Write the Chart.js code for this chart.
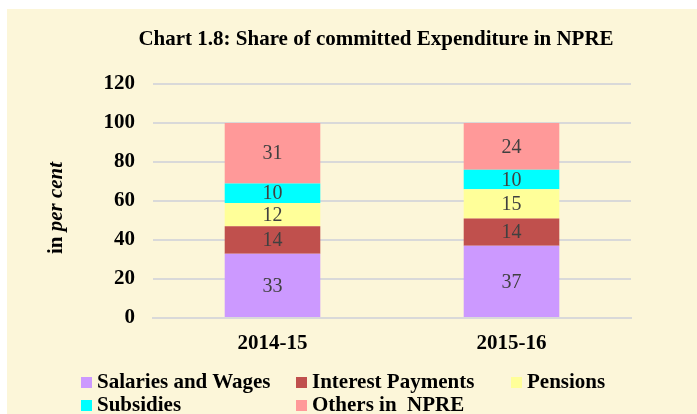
<!DOCTYPE html>
<html>
<head>
<meta charset="utf-8">
<script src="https://cdn.jsdelivr.net/npm/chart.js@4"></script>
<style>
  body { margin: 0; background: #fff; }
  #wrap { position: absolute; left: 7px; top: 9px; width: 690px; height: 405px; background: #FCF6D9; }
  #legend { position: absolute; left: 0; top: 0; width: 690px; height: 405px; pointer-events: none;
    font-family: 'Times New Roman', 'Liberation Serif', serif; font-weight: bold; font-size: 21px; color: #000; }
  .item { position: absolute; white-space: pre; line-height: 22px; }
  .box { display: inline-block; width: 11px; height: 11px; margin-right: 5px; vertical-align: 0px; }
</style>
</head>
<body>
<div id="wrap">
  <canvas id="myChart" width="690" height="405"></canvas>
  <div id="legend"></div>
</div>
<script>
const years = ['2014-15', '2015-16']
const salaries = [33, 37]
const interest = [14, 14]
const pensions = [12, 15]
const subsidies = [10, 10]
const others = [31, 24]
const seriesNames = ['Salaries and Wages', 'Interest Payments', 'Pensions', 'Subsidies', 'Others in  NPRE']
const seriesColors = ['#CC99FF', '#C0504D', '#FFFF99', '#00FFFF', '#FF9999']
const yTicks = [0, 20, 40, 60, 80, 100, 120]
const chartTitle = 'Chart 1.8: Share of committed Expenditure in NPRE'

const serif = "'Times New Roman', 'Liberation Serif', serif"
const allSeries = [salaries, interest, pensions, subsidies, others]

// value labels in the middle of every segment
const barLabels = {
  id: 'barLabels',
  afterDatasetsDraw(chart) {
    const ctx = chart.ctx
    ctx.save()
    ctx.font = '20px ' + serif
    ctx.fillStyle = '#404040'
    ctx.textAlign = 'center'
    ctx.textBaseline = 'middle'
    chart.data.datasets.forEach((ds, i) => {
      chart.getDatasetMeta(i).data.forEach((bar, j) => {
        ctx.fillText(String(ds.data[j]), bar.x, (bar.y + bar.base) / 2 + 1)
      })
    })
    ctx.restore()
  }
}

// title + y title ("in " bold, "per cent" bold italic)
const texts = {
  id: 'texts',
  afterDraw(chart) {
    const ctx = chart.ctx
    ctx.save()
    ctx.fillStyle = '#000'
    ctx.textBaseline = 'middle'
    ctx.textAlign = 'center'
    ctx.font = 'bold 21px ' + serif
    ctx.fillText(chartTitle, 369, 31)

    ctx.translate(50, 199)
    ctx.rotate(-Math.PI / 2)
    const a = 'in ', b = 'per cent'
    ctx.font = 'bold 21px ' + serif
    const wa = ctx.measureText(a).width
    ctx.font = 'italic bold 21px ' + serif
    const wb = ctx.measureText(b).width
    const x = -(wa + wb) / 2
    ctx.textAlign = 'left'
    ctx.font = 'bold 21px ' + serif
    ctx.fillText(a, x, 0)
    ctx.font = 'italic bold 21px ' + serif
    ctx.fillText(b, x + wa, 0)
    ctx.restore()
  }
}

const ctx = document.getElementById('myChart').getContext('2d')
const chart = new Chart(ctx, {
  type: 'bar',
  data: {
    labels: years,
    datasets: allSeries.map((d, i) => ({
      label: seriesNames[i],
      data: d,
      backgroundColor: seriesColors[i],
      barPercentage: 0.4,
      categoryPercentage: 1
    }))
  },
  options: {
    responsive: false,
    animation: false,
    layout: { padding: { left: 76, right: 66, top: 75, bottom: 50 } },
    plugins: {
      legend: { display: false },
      tooltip: { enabled: false },
      title: { display: false }
    },
    scales: {
      x: {
        stacked: true,
        grid: { display: false, drawTicks: false },
        border: { display: true, color: '#D9D9D9', width: 2 },
        ticks: { color: '#000', padding: 13, font: { family: serif, size: 21, weight: 'bold' } },
        afterFit(scale) { scale.height = 46 }
      },
      y: {
        stacked: true,
        min: 0,
        max: 120,
        afterBuildTicks(scale) { scale.ticks = yTicks.map(v => ({ value: v })) },
        grid: { color: '#D9D9D9', lineWidth: 2, drawTicks: false },
        border: { display: false },
        ticks: { color: '#000', padding: 18, font: { family: serif, size: 21, weight: 'bold' } },
        afterFit(scale) { scale.width = 70 }
      }
    }
  },
  plugins: [barLabels, texts]
})

// legend laid out in a grid like the original
const legend = document.getElementById('legend')
const legendPos = [[74, 361], [289, 361], [504, 361], [74, 384], [289, 384]]
seriesNames.forEach((name, i) => {
  const el = document.createElement('div')
  el.className = 'item'
  el.style.left = legendPos[i][0] + 'px'
  el.style.top = legendPos[i][1] + 'px'
  el.innerHTML = '<span class="box" style="background:' + seriesColors[i] + '"></span>' + name
  legend.appendChild(el)
})
</script>
</body>
</html>
